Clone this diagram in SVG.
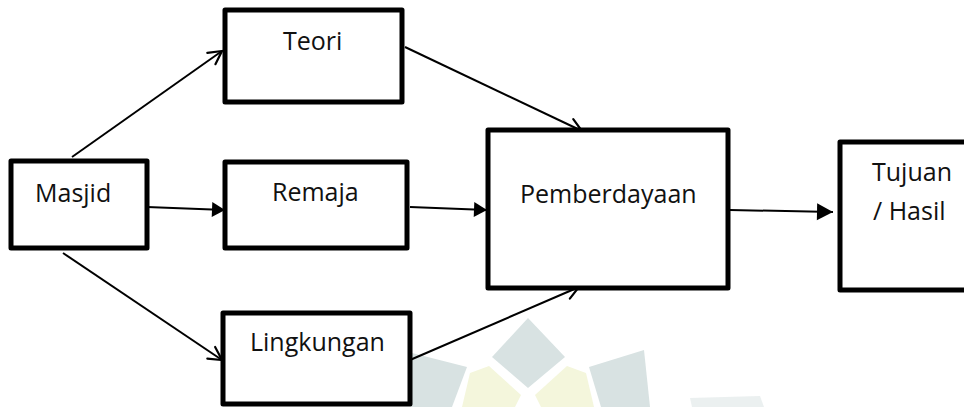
<svg xmlns="http://www.w3.org/2000/svg" width="964" height="407" viewBox="0 0 964 407">
<style>
.box{fill:#fff;stroke:#000;stroke-width:5;stroke-linejoin:round}
.lbl{font-family:"Open Sans","Liberation Sans",sans-serif;font-size:25px;fill:#111}
.con{stroke:#000;stroke-width:2;fill:none}
.wg{fill:#d8e2e2}
.wy{fill:#f4f6dc}
</style>
<defs>
<marker id="open" markerUnits="userSpaceOnUse" markerWidth="20" markerHeight="20" viewBox="-16 -10 20 20" refX="0" refY="0" orient="auto">
<path d="M-13,-7 L0,0 L-13,7" fill="none" stroke="#000" stroke-width="2.2" stroke-linecap="round"/>
</marker>
<marker id="fill" markerUnits="userSpaceOnUse" markerWidth="20" markerHeight="20" viewBox="-18 -10 20 20" refX="0" refY="0" orient="auto">
<path d="M-13,-7.5 L0,0 L-13,7.5 Z" fill="#000"/>
</marker>
<marker id="fillL" markerUnits="userSpaceOnUse" markerWidth="22" markerHeight="22" viewBox="-18 -11 22 22" refX="0" refY="0" orient="auto">
<path d="M-16,-8.5 L0,0 L-16,8.5 Z" fill="#000"/>
</marker>
</defs>
<rect width="964" height="407" fill="#fff"/>
<g id="watermark">
<polygon class="wg" points="412,353 467,367 452,407 410,407"/>
<polygon class="wg" points="644,350 589,367 601,407 650,407"/>
<polygon class="wg" points="528,318 565,357 528,388 492,357"/>
<polygon class="wy" points="470,373 489,366 521,395 515,407 462,407"/>
<polygon class="wy" points="586,373 567,366 535,395 541,407 594,407"/>
<polygon class="wg" points="690,398 760,396 764,407 692,407" opacity="0.5"/>
</g>
<g id="connectors">
<line class="con" x1="72" y1="157" x2="222" y2="51" marker-end="url(#open)"/>
<line class="con" x1="147" y1="207" x2="225" y2="210" marker-end="url(#fill)"/>
<line class="con" x1="63" y1="253" x2="222" y2="360" marker-end="url(#open)"/>
<line class="con" x1="405" y1="47" x2="582" y2="131" marker-end="url(#open)"/>
<line class="con" x1="410" y1="207" x2="487" y2="210" marker-end="url(#fill)"/>
<line class="con" x1="410" y1="360" x2="579" y2="287" marker-end="url(#open)"/>
<line class="con" x1="730" y1="210" x2="833" y2="212" marker-end="url(#fillL)"/>
</g>
<g id="masjid">
<rect class="box" x="11" y="161" width="136" height="87"/>
<text class="lbl" x="35" y="202">Masjid</text>
</g>
<g id="teori">
<rect class="box" x="225" y="10" width="177" height="92"/>
<text class="lbl" x="283" y="50">Teori</text>
</g>
<g id="remaja">
<rect class="box" x="225" y="162" width="182" height="86"/>
<text class="lbl" x="272" y="201">Remaja</text>
</g>
<g id="lingkungan">
<rect class="box" x="223" y="313" width="187" height="91"/>
<text class="lbl" x="250" y="351">Lingkungan</text>
</g>
<g id="pemberdayaan">
<rect class="box" x="488" y="130" width="240" height="158"/>
<text class="lbl" x="520" y="203">Pemberdayaan</text>
</g>
<g id="tujuan">
<rect class="box" x="840" y="142" width="140" height="148"/>
<text class="lbl" x="872" y="181">Tujuan</text>
<text class="lbl" x="873" y="220">/ Hasil</text>
</g>
</svg>
